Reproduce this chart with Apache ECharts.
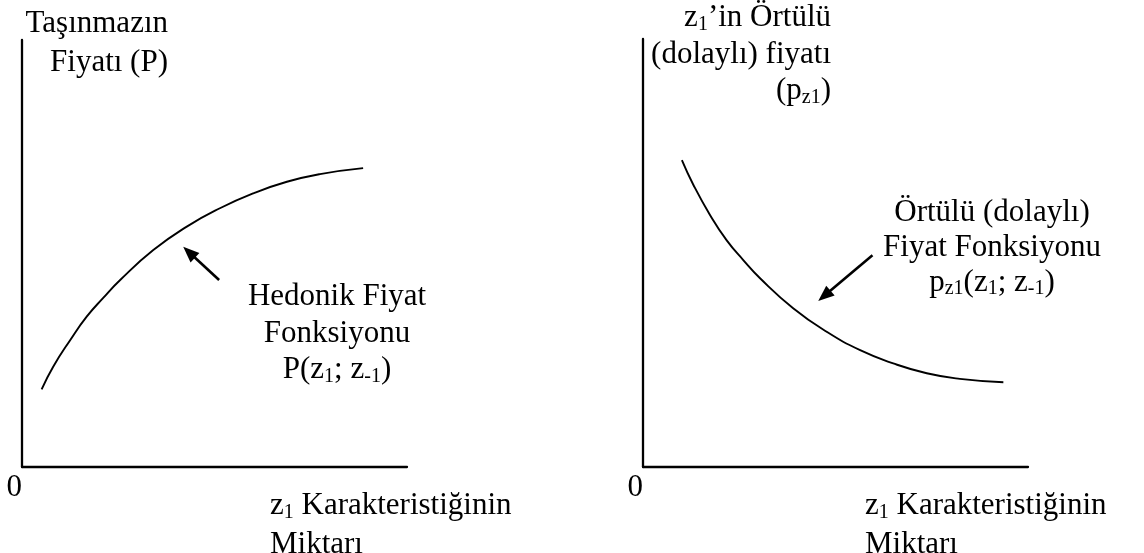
<!DOCTYPE html>
<html>
<head>
<meta charset="utf-8">
<title>Hedonik ve Örtülü Fiyat Fonksiyonları</title>
<script src="https://cdn.jsdelivr.net/npm/echarts@6/dist/echarts.min.js"></script>
<style>
  html, body { margin: 0; padding: 0; background: #fff; }
  #chart { width: 1144px; height: 553px; }
</style>
</head>
<body>
<div id="chart"></div>
<script>
// Hedonic price function P(z1; z-1): rising, concave
const hedonicX = [5.1, 8.1, 12.5, 16.8, 21.1, 25.5, 34.1, 42.8, 51.4, 60.1, 68.8, 77.4, 88.6];
const hedonicY = [18.2, 23.5, 29.7, 35.2, 39.6, 43.8, 50.8, 56.3, 60.6, 64.1, 66.8, 68.6, 70.0];

// Implicit (marginal) price function p_z1(z1; z-1): falling, convex
const implicitX = [10.1, 13.1, 17.4, 21.7, 26.1, 30.4, 39.0, 47.7, 56.4, 65.0, 73.7, 82.3, 93.6];
const implicitY = [71.7, 65.9, 58.9, 53.0, 48.3, 44.1, 37.1, 31.6, 27.3, 24.2, 21.9, 20.6, 19.8];

// Pointer arrows (tail, head) in data units of each panel
const hedonicArrow = [[51.2, 43.8], [43.4, 50.3]];
const implicitArrow = [[59.6, 49.5], [47.1, 40.0]];

// Axis range and the only tick label that is printed
const axisMin = 0;
const axisMax = 100;
const axisStep = 50;
const originLabel = '0';

// Text blocks
const leftYTitle = 'Taşınmazın\nFiyatı (P)';
const rightYTitle = 'z{s|1}’in Örtülü\n(dolaylı) fiyatı\n(p{s|z1})';
const xTitle = 'z{s|1} Karakteristiğinin\nMiktarı';
const hedonicLabel = 'Hedonik Fiyat\nFonksiyonu\nP(z{s|1}; z{s|-1})';
const implicitLabel = 'Örtülü (dolaylı)\nFiyat Fonksiyonu\np{s|z1}(z{s|1}; z{s|-1})';

const FONT = "'Liberation Serif', 'Times New Roman', serif";
const FS = 31;
const SUB = { fontSize: 20, fontFamily: FONT, fill: '#000', padding: [13, 0, 0, 0] };

function pairs(xs, ys) { return xs.map((x, i) => [x, ys[i]]); }

function valueAxis(gridIndex, isX) {
  return {
    type: 'value', gridIndex,
    min: axisMin, max: axisMax, interval: axisStep,
    axisLine: { show: true, onZero: false, lineStyle: { color: '#000', width: 2.3 } },
    axisTick: { show: false },
    splitLine: { show: false },
    axisLabel: isX ? {
      show: true, margin: 5, align: 'right', verticalAlign: 'top',
      color: '#000', fontSize: FS, fontFamily: FONT,
      formatter: v => (v === axisMin ? originLabel : '')
    } : { show: false }
  };
}

function curve(idx, xs, ys, arrow) {
  return {
    type: 'line', xAxisIndex: idx, yAxisIndex: idx,
    data: pairs(xs, ys), smooth: 0.5,
    showSymbol: false, clip: false,
    lineStyle: { color: '#000', width: 1.9 },
    silent: true,
    markLine: {
      silent: true, symbol: ['none', 'triangle'], symbolSize: [13, 16],
      label: { show: false },
      lineStyle: { color: '#000', width: 2.6, type: 'solid' },
      data: [[{ coord: arrow[0] }, { coord: arrow[1] }]]
    }
  };
}

function textBlock(text, x, y, align, lineHeight) {
  return {
    type: 'text', x, y, silent: true,
    style: {
      text, align, verticalAlign: 'top', lineHeight,
      fontSize: FS, fontFamily: FONT, fill: '#000',
      rich: { s: SUB }
    }
  };
}

const chart = echarts.init(document.getElementById('chart'), null, { renderer: 'canvas' });
chart.setOption({
  animation: false,
  backgroundColor: '#fff',
  grid: [
    { left: 22, top: 40, width: 385, height: 427 },
    { left: 643, top: 39, width: 385, height: 428 }
  ],
  xAxis: [valueAxis(0, true), valueAxis(1, true)],
  yAxis: [valueAxis(0, false), valueAxis(1, false)],
  series: [
    curve(0, hedonicX, hedonicY, hedonicArrow),
    curve(1, implicitX, implicitY, implicitArrow)
  ],
  graphic: [
    textBlock(leftYTitle, 168, 4.5, 'right', 39),
    textBlock(rightYTitle, 831, 0, 'right', 36.5),
    textBlock(hedonicLabel, 337, 279, 'center', 36.5),
    textBlock(implicitLabel, 992, 195, 'center', 35),
    textBlock(xTitle, 270, 487, 'left', 38.5),
    textBlock(xTitle, 865, 487, 'left', 38.5)
  ]
});
</script>
</body>
</html>
